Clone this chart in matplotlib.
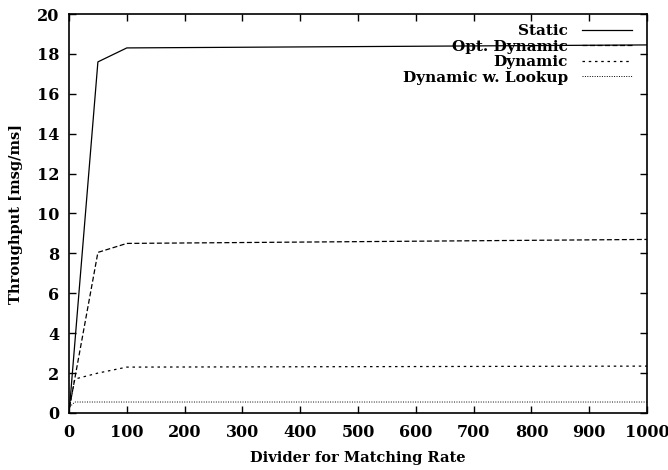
import matplotlib.pyplot as plt

# matching-rate divider sweep
x_static = [1, 50, 100, 1000]
static = [0.3, 17.6, 18.3, 18.45]

x_opt = [1, 50, 100, 1000]
opt_dynamic = [0.3, 8.05, 8.5, 8.7]

x_dyn = [1, 10, 50, 100, 1000]
dynamic = [0.3, 1.7, 2.0, 2.3, 2.35]

x_lookup = [1, 10, 100, 1000]
dyn_lookup = [0.3, 0.55, 0.55, 0.55]

plt.rcParams["font.family"] = ["DejaVu Serif"]
plt.rcParams["font.weight"] = "bold"

fig = plt.figure(figsize=(6.68, 4.70), dpi=100)
ax = fig.add_axes([0.1033, 0.1213, 0.8653, 0.8489])

lw = 0.9
ax.plot(x_static, static, color="black", lw=lw, ls="-", label="Static")
ax.plot(x_opt, opt_dynamic, color="black", lw=lw, ls=(0, (4, 2)), label="Opt. Dynamic")
ax.plot(x_dyn, dynamic, color="black", lw=lw, ls=(0, (2, 3)), label="Dynamic")
ax.plot(x_lookup, dyn_lookup, color="black", lw=0.7, ls=(0, (1, 1.5)), label="Dynamic w. Lookup")

ax.set_xlim(0, 1000)
ax.set_ylim(0, 20)
ax.set_xticks(range(0, 1001, 100))
ax.set_yticks(range(0, 21, 2))
ax.tick_params(direction="in", top=True, right=True, length=5, width=1,
               labelsize=11.5)
ax.tick_params(axis="x", pad=8)
ax.tick_params(axis="y", pad=7)
for lab in ax.get_xticklabels() + ax.get_yticklabels():
    lab.set_fontweight("bold")
for sp in ax.spines.values():
    sp.set_linewidth(1.2)

ax.set_xlabel("Divider for Matching Rate", fontsize=10.5, fontweight="bold", labelpad=7)
ax.set_ylabel("Throughput [msg/ms]", fontsize=10.5, fontweight="bold", labelpad=10)

leg = ax.legend(loc="upper right", bbox_to_anchor=(0.985, 0.99), frameon=False,
                markerfirst=False, handlelength=3.3, handletextpad=0.9,
                labelspacing=0.1, borderaxespad=0, prop={"size": 11, "weight": "bold"})
for t in leg.get_texts():
    t.set_ha("right")

fig.savefig("out.png", dpi=100)
